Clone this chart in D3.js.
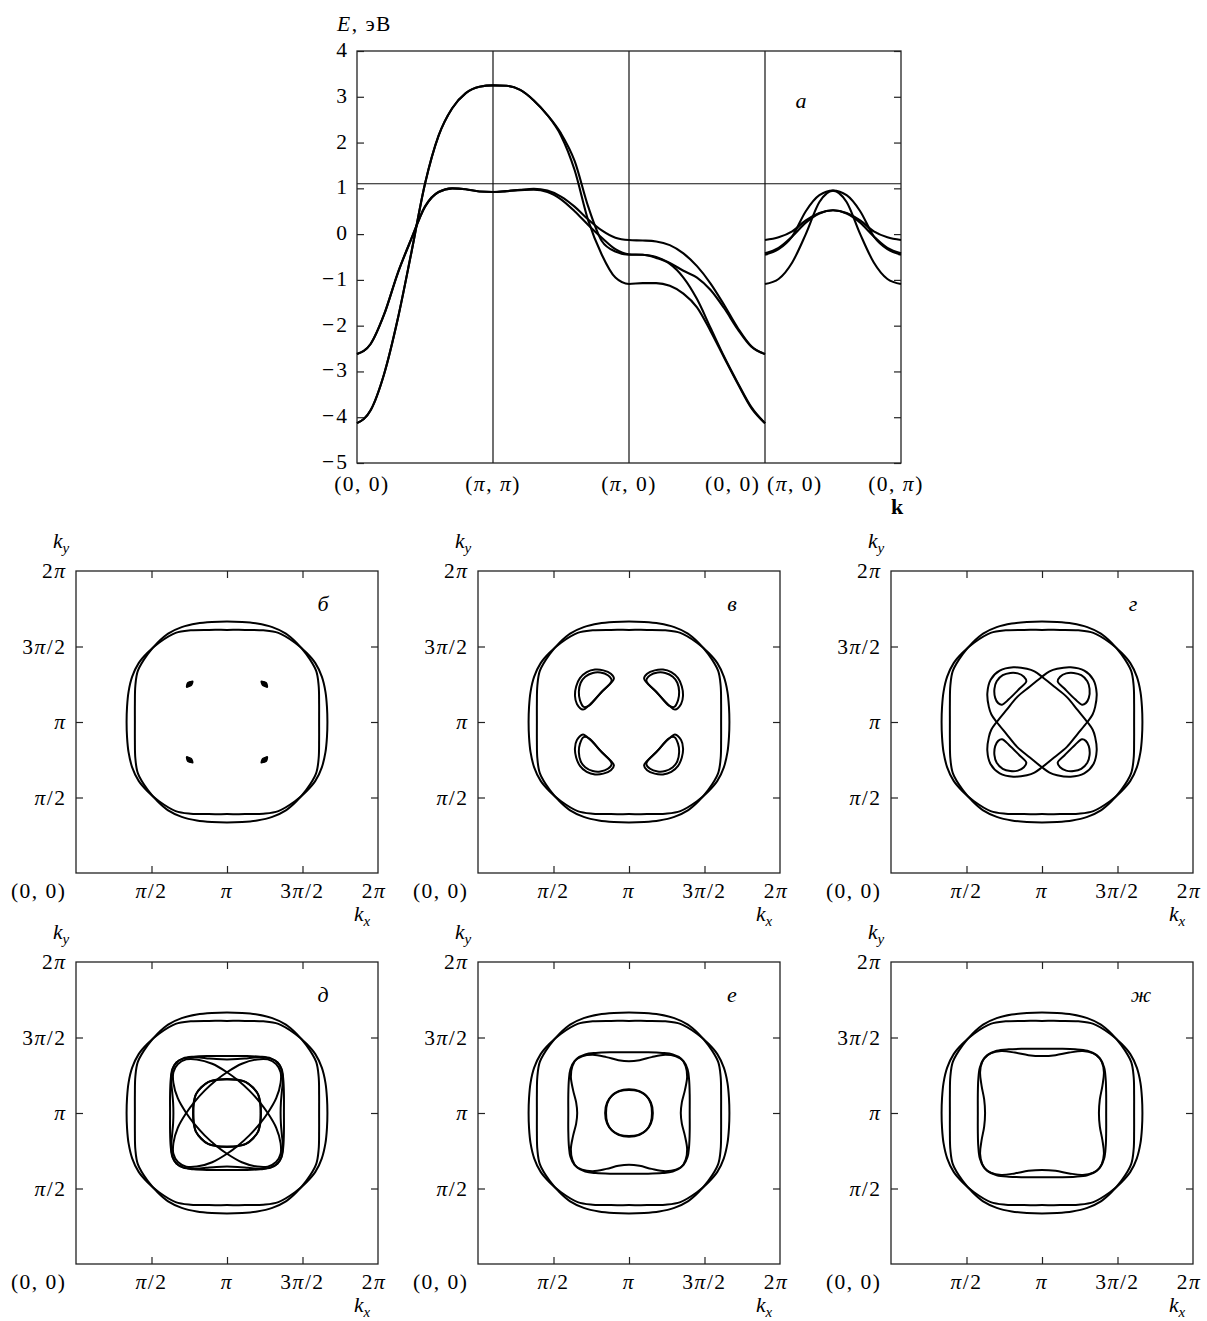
<!DOCTYPE html>
<html>
<head>
<meta charset="utf-8">
<script src="https://cdn.jsdelivr.net/npm/d3@7"></script>
<style>
  body { margin: 0; background: #fff; }
  text { font-family: "Liberation Serif", "DejaVu Serif", serif; fill: #000; }
</style>
</head>
<body>
<svg id="chart" width="1207" height="1321"></svg>
<script>
// ---------- data: band structure (panel a) ----------
var energyTicks = [-5, -4, -3, -2, -1, 0, 1, 2, 3, 4];
var fermiLevel = 1.1;
var pathLabels = ["(0, 0)", "(π, π)", "(π, 0)", "(0, 0)", "(π, 0)", "(0, π)"];

// (0,0)->(π,π)->(π,0)->(0,0), 10 samples per segment (31 values)
var band1 = [-2.62, -2.4, -1.75, -0.85, -0.1, 0.6, 0.92, 1.0, 0.98, 0.93, 0.92,
             0.94, 0.97, 0.99, 0.95, 0.82, 0.6, 0.32, 0.08, -0.08, -0.13,
             -0.14, -0.16, -0.24, -0.42, -0.7, -1.08, -1.55, -2.05, -2.45, -2.62];
var band2 = [-2.62, -2.4, -1.75, -0.85, -0.1, 0.6, 0.92, 1.0, 0.98, 0.93, 0.92,
             0.94, 0.96, 0.97, 0.92, 0.76, 0.5, 0.2, -0.08, -0.33, -0.44,
             -0.45, -0.5, -0.63, -0.8, -0.95, -1.22, -1.62, -2.08, -2.46, -2.62];
var band3 = [-4.13, -3.85, -3.05, -1.85, -0.4, 1.1, 2.15, 2.75, 3.08, 3.22, 3.25,
             3.24, 3.15, 2.92, 2.6, 2.2, 1.6, 0.6, -0.15, -0.38, -0.45,
             -0.45, -0.52, -0.65, -0.95, -1.42, -2.05, -2.68, -3.25, -3.78, -4.13];
var band4 = [-4.13, -3.85, -3.05, -1.85, -0.4, 1.1, 2.15, 2.75, 3.08, 3.22, 3.25,
             3.24, 3.15, 2.92, 2.6, 2.15, 1.4, 0.3, -0.45, -0.95, -1.09,
             -1.07, -1.07, -1.13, -1.3, -1.6, -2.12, -2.7, -3.27, -3.8, -4.13];

// (π,0)->(0,π), 11 values
var xyBand1 = [-0.13, -0.07, 0.06, 0.3, 0.46, 0.52, 0.46, 0.3, 0.06, -0.07, -0.13];
var xyBand2 = [-0.42, -0.3, -0.05, 0.25, 0.45, 0.52, 0.45, 0.25, -0.05, -0.3, -0.42];
var xyBand3 = [-0.45, -0.33, -0.05, 0.5, 0.85, 0.95, 0.85, 0.5, -0.05, -0.33, -0.45];
var xyBand4 = [-1.09, -0.98, -0.62, 0.0, 0.7, 0.95, 0.7, 0.0, -0.62, -0.98, -1.09];

// ---------- data: Fermi surfaces (offsets from (π,π), units of π) ----------
var piTicks = [0.5, 1, 1.5];
var piTickLabels = ["π/2", "π", "3π/2", "2π"];

// quadrant from +kx axis to +ky axis
var outerRing = [[0.665, 0], [0.662, 0.1], [0.652, 0.2], [0.628, 0.3], [0.585, 0.39], [0.525, 0.46],
                 [0.45, 0.525], [0.34, 0.59], [0.24, 0.607], [0.12, 0.61], [0, 0.61]];
var ringD = [[0.377, 0], [0.377, 0.12], [0.373, 0.22], [0.362, 0.29], [0.335, 0.335], [0.29, 0.36],
             [0.22, 0.37], [0.14, 0.363], [0.07, 0.357], [0, 0.355]];
var ringE = [[0.402, 0], [0.402, 0.12], [0.398, 0.22], [0.388, 0.29], [0.36, 0.345], [0.31, 0.375],
             [0.24, 0.385], [0.15, 0.37], [0.07, 0.35], [0, 0.343]];
var ringZh = [[0.425, 0], [0.425, 0.12], [0.422, 0.22], [0.412, 0.3], [0.385, 0.36], [0.34, 0.395],
              [0.27, 0.41], [0.18, 0.4], [0.09, 0.383], [0, 0.377]];
var coreD = [[0.225, 0], [0.222, 0.06], [0.205, 0.125], [0.17, 0.17], [0.125, 0.205], [0.06, 0.22], [0, 0.222]];
var coreE = [[0.152, 0], [0.145, 0.06], [0.118, 0.11], [0.07, 0.145], [0, 0.158]];

// closed pockets in the upper right quadrant
var dotB = [[0.227, 0.27], [0.245, 0.266], [0.26, 0.26], [0.266, 0.245], [0.267, 0.23], [0.25, 0.236], [0.236, 0.243]];
var pocketV1 = [[0.10, 0.287], [0.12, 0.32], [0.17, 0.342], [0.225, 0.347], [0.28, 0.33], [0.325, 0.29],
                [0.35, 0.235], [0.358, 0.175], [0.345, 0.12], [0.305, 0.082], [0.26, 0.115], [0.18, 0.2]];
var pocketV2 = [[0.115, 0.275], [0.14, 0.31], [0.19, 0.328], [0.24, 0.325], [0.29, 0.3], [0.32, 0.26],
                [0.332, 0.2], [0.325, 0.145], [0.3, 0.1], [0.265, 0.108], [0.19, 0.19]];
var pocketG = [[0.104, 0.269], [0.12, 0.3], [0.16, 0.322], [0.21, 0.325], [0.26, 0.31], [0.30, 0.27],
               [0.315, 0.22], [0.31, 0.16], [0.29, 0.125], [0.265, 0.115], [0.22, 0.15], [0.15, 0.22]];

// half of a "/" oriented lens, from its NW flank round the NE tip to its SE flank
var lensG = [[-0.165, 0.165], [-0.08, 0.235], [0, 0.30], [0.05, 0.335], [0.10, 0.352], [0.19, 0.362],
             [0.28, 0.34], [0.34, 0.28], [0.362, 0.19], [0.352, 0.10], [0.335, 0.05], [0.30, 0],
             [0.235, -0.08], [0.165, -0.165]];
var lensD = [[-0.148, 0.148], [-0.074, 0.215], [0, 0.27], [0.098, 0.326], [0.2, 0.355], [0.27, 0.355],
             [0.325, 0.325], [0.355, 0.27], [0.355, 0.2], [0.326, 0.098], [0.27, 0], [0.215, -0.074],
             [0.148, -0.148]];

// ---------- helpers ----------
function ring(q) {
  var q2 = q.slice().reverse().map(function(p) { return [-p[0], p[1]]; }).slice(1);
  var q3 = q.map(function(p) { return [-p[0], -p[1]]; }).slice(1);
  var q4 = q.slice().reverse().map(function(p) { return [p[0], -p[1]]; }).slice(1, -1);
  return q.concat(q2, q3, q4);
}
function transpose(c) { return c.map(function(p) { return [p[1], p[0]]; }); }
function mirrorX(c) { return c.map(function(p) { return [-p[0], p[1]]; }); }
function quads(c) {
  return [c,
          c.map(function(p) { return [-p[0], p[1]]; }),
          c.map(function(p) { return [-p[0], -p[1]]; }),
          c.map(function(p) { return [p[0], -p[1]]; })];
}
function lens(h) {
  return h.concat(h.slice(1, -1).map(function(p) { return [-p[0], -p[1]]; }));
}
// one band and its kx<->ky partner
function pair(q) { var r = ring(q); return [r, transpose(r)]; }

// text with italic π
function mathText(g, str, x, y, anchor) {
  var a = anchor || "middle";
  var t = g.append("text").attr("x", a === "end" ? x + 1.5 : x).attr("y", y)
      .attr("text-anchor", a).style("font-size", "21.5px").style("letter-spacing", "1.5px");
  str.split(/(π)/).forEach(function(s) {
    if (!s) return;
    var ts = t.append("tspan").text(s);
    if (s === "π") ts.style("font-style", "italic");
  });
  return t;
}
function subText(g, main, sub, x, y) {
  var t = g.append("text").attr("x", x).attr("y", y)
      .style("font-size", "21.5px").style("font-style", "italic");
  t.append("tspan").text(main);
  t.append("tspan").text(sub).attr("dy", 5).style("font-size", "15px");
  return t;
}

var svg = d3.select("#chart");

// ---------- panel a ----------
var xk = d3.scaleLinear().domain([0, 4]).range([357, 901]);
var yE = d3.scaleLinear().domain([-5, 4]).range([463, 51]);
var panelA = svg.append("g");

function tickStyle(sel) {
  sel.select(".domain").remove();
  sel.selectAll("line").attr("stroke", "#222").attr("stroke-width", 1.2);
}
panelA.append("g").attr("transform", "translate(" + xk(0) + ",0)")
  .call(d3.axisLeft(yE).tickValues(energyTicks).tickSizeInner(-7).tickSizeOuter(0).tickFormat("")).call(tickStyle);
panelA.append("g").attr("transform", "translate(" + xk(4) + ",0)")
  .call(d3.axisRight(yE).tickValues(energyTicks).tickSizeInner(-7).tickSizeOuter(0).tickFormat("")).call(tickStyle);

energyTicks.forEach(function(v) {
  panelA.append("text").attr("x", 349).attr("y", yE(v) + 6).attr("text-anchor", "end")
    .style("font-size", "21.5px").style("letter-spacing", "2px").text(d3.format("d")(v));
});

[1, 2, 3].forEach(function(v) {
  panelA.append("line").attr("x1", xk(v)).attr("x2", xk(v)).attr("y1", yE(4)).attr("y2", yE(-5))
    .attr("stroke", "#111").attr("stroke-width", 1.2);
});
panelA.append("line").attr("x1", xk(0)).attr("x2", xk(4)).attr("y1", yE(fermiLevel)).attr("y2", yE(fermiLevel))
  .attr("stroke", "#111").attr("stroke-width", 1.2);
panelA.append("rect").attr("x", xk(0)).attr("y", yE(4)).attr("width", xk(4) - xk(0)).attr("height", yE(-5) - yE(4))
  .attr("fill", "none").attr("stroke", "#222").attr("stroke-width", 1.3);

var bandLine = d3.line().x(function(d, i) { return xk(i / 10); }).y(function(d) { return yE(d); })
  .curve(d3.curveMonotoneX);
var xyLine = d3.line().x(function(d, i) { return xk(3 + i / 10); }).y(function(d) { return yE(d); })
  .curve(d3.curveMonotoneX);

panelA.selectAll(".band").data([band1, band2, band3, band4]).enter().append("path")
  .attr("class", "band").attr("d", bandLine)
  .attr("fill", "none").attr("stroke", "#000").attr("stroke-width", 2.1);
panelA.selectAll(".xyband").data([xyBand1, xyBand2, xyBand3, xyBand4]).enter().append("path")
  .attr("class", "xyband").attr("d", xyLine)
  .attr("fill", "none").attr("stroke", "#000").attr("stroke-width", 2.1);

var labY = 491;
mathText(panelA, pathLabels[0], xk(0) + 5, labY);
mathText(panelA, pathLabels[1], xk(1), labY);
mathText(panelA, pathLabels[2], xk(2), labY);
mathText(panelA, pathLabels[3], xk(3) - 6, labY, "end");
mathText(panelA, pathLabels[4], xk(3) + 2, labY, "start");
mathText(panelA, pathLabels[5], xk(4) - 5, labY);
panelA.append("text").attr("x", xk(4) - 4).attr("y", 514).attr("text-anchor", "middle")
  .style("font-size", "22px").style("font-weight", "bold").text("k");

var eLab = panelA.append("text").attr("x", 337).attr("y", 31).style("font-size", "21.5px").style("letter-spacing", "1.5px");
eLab.append("tspan").style("font-style", "italic").text("E");
eLab.append("tspan").text(", эВ");

panelA.append("text").attr("x", 801).attr("y", 108).attr("text-anchor", "middle")
  .style("font-size", "22px").style("font-style", "italic").text("а");

// ---------- Fermi surface panels ----------
var panelSize = 302;
var panelCols = [76, 478, 891];
var panelRows = [571, 962];

var panels = [
  { name: "б", col: 0, row: 0, lx: 247, curves: pair(outerRing), dots: quads(dotB) },
  { name: "в", col: 1, row: 0, lx: 254, curves: pair(outerRing).concat(quads(pocketV1), quads(pocketV2)) },
  { name: "г", col: 2, row: 0, lx: 242, curves: pair(outerRing).concat([lens(lensG), mirrorX(lens(lensG))], quads(pocketG)) },
  { name: "д", col: 0, row: 1, lx: 247, curves: pair(outerRing).concat(pair(ringD), [lens(lensD), mirrorX(lens(lensD))], pair(coreD)) },
  { name: "е", col: 1, row: 1, lx: 254, curves: pair(outerRing).concat(pair(ringE), pair(coreE)) },
  { name: "ж", col: 2, row: 1, lx: 250, curves: pair(outerRing).concat(pair(ringZh)) }
];

panels.forEach(function(p) {
  var left = panelCols[p.col], topY = panelRows[p.row];
  var x = d3.scaleLinear().domain([0, 2]).range([left, left + panelSize]);
  var y = d3.scaleLinear().domain([0, 2]).range([topY + panelSize, topY]);
  var g = svg.append("g");

  g.append("g").attr("transform", "translate(0," + y(0) + ")")
    .call(d3.axisBottom(x).tickValues(piTicks).tickSizeInner(-7).tickSizeOuter(0).tickFormat("")).call(tickStyle);
  g.append("g").attr("transform", "translate(0," + y(2) + ")")
    .call(d3.axisTop(x).tickValues(piTicks).tickSizeInner(-7).tickSizeOuter(0).tickFormat("")).call(tickStyle);
  g.append("g").attr("transform", "translate(" + x(0) + ",0)")
    .call(d3.axisLeft(y).tickValues(piTicks).tickSizeInner(-7).tickSizeOuter(0).tickFormat("")).call(tickStyle);
  g.append("g").attr("transform", "translate(" + x(2) + ",0)")
    .call(d3.axisRight(y).tickValues(piTicks).tickSizeInner(-7).tickSizeOuter(0).tickFormat("")).call(tickStyle);

  g.append("rect").attr("x", x(0)).attr("y", y(2)).attr("width", panelSize).attr("height", panelSize)
    .attr("fill", "none").attr("stroke", "#222").attr("stroke-width", 1.3);

  var contour = d3.line()
    .x(function(d) { return x(1 + d[0]); })
    .y(function(d) { return y(1 + d[1]); })
    .curve(d3.curveCatmullRomClosed.alpha(0.5));

  g.selectAll(".fs").data(p.curves).enter().append("path")
    .attr("class", "fs").attr("d", contour)
    .attr("fill", "none").attr("stroke", "#000").attr("stroke-width", 2);
  if (p.dots) {
    g.selectAll(".dot").data(p.dots).enter().append("path")
      .attr("class", "dot").attr("d", contour)
      .attr("fill", "#000").attr("stroke", "#000").attr("stroke-width", 1.5);
  }

  // tick labels
  [0.5, 1, 1.5, 2].forEach(function(v, i) {
    mathText(g, piTickLabels[i], x(0) - 11, y(v) + 7, "end");
    mathText(g, piTickLabels[i], x(v) - (v === 2 ? 4 : 0), y(0) + 25);
  });
  mathText(g, "(0, 0)", x(0) - 11, y(0) + 25, "end");
  subText(g, "k", "y", x(0) - 23, y(2) - 23);
  subText(g, "k", "x", x(2) - 24, y(0) + 48);

  g.append("text").attr("x", x(0) + p.lx).attr("y", y(2) + 40).attr("text-anchor", "middle")
    .style("font-size", "22px").style("font-style", "italic").text(p.name);
});
</script>
</body>
</html>
